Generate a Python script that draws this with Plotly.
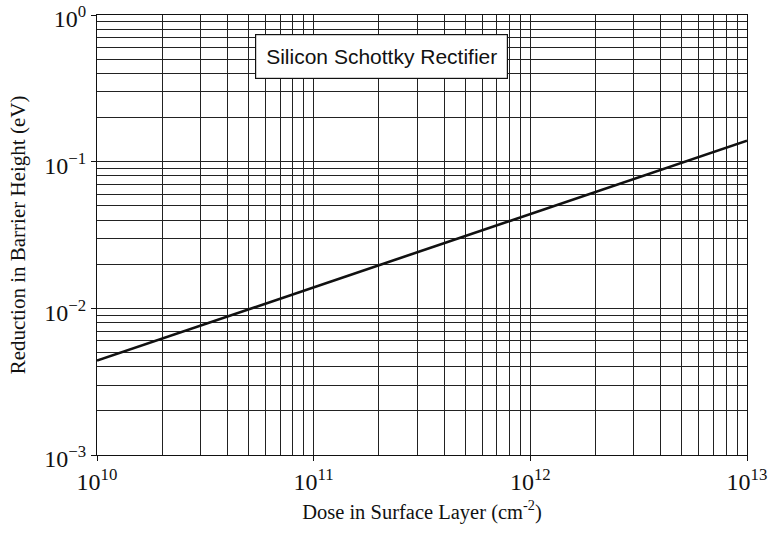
import plotly.graph_objects as go

# Data (log-log straight line)
dose = [1e10, 1e11, 1e12, 1e13]
barrier_reduction = [0.0044, 0.0139, 0.044, 0.139]

x_major = [1e10, 1e11, 1e12, 1e13]
x_major_labels = ["10<sup>10</sup>", "10<sup>11</sup>", "10<sup>12</sup>", "10<sup>13</sup>"]
y_major = [1e-3, 1e-2, 1e-1, 1e0]
y_major_labels = ["10<sup>−3</sup>", "10<sup>−2</sup>", "10<sup>−1</sup>", "10<sup>0</sup>"]
x_minor = [m * 10**e for e in (10, 11, 12) for m in range(2, 10)]
y_minor = [m * 10**e for e in (-3, -2, -1) for m in range(2, 10)]

serif = "Liberation Serif, Times New Roman, serif"
grid_col = "#222222"

fig = go.Figure()
fig.add_trace(go.Scatter(x=dose, y=barrier_reduction, mode="lines",
                         line=dict(color="#111111", width=2.6), showlegend=False))

axis_common = dict(
    type="log", showline=True, linecolor="#111111", linewidth=1.3, mirror=True,
    showgrid=True, gridcolor=grid_col, gridwidth=1.2,
    ticks="outside", ticklen=5, tickcolor="#111111", tickwidth=1.3,
    zeroline=False, automargin=False, ticklabeloverflow="allow",
    tickfont=dict(family=serif, size=24, color="#111111"),
)

fig.update_xaxes(**axis_common, range=[10, 13], tickmode="array",
                 tickvals=x_major, ticktext=x_major_labels,
                 minor=dict(tickmode="array", tickvals=x_minor, showgrid=True,
                            gridcolor=grid_col, gridwidth=1.2, ticks=""),
                 title=dict(text="Dose in Surface Layer (cm<sup>-2</sup>)",
                            font=dict(family=serif, size=20.5, color="#111111"), standoff=10))
fig.update_yaxes(**axis_common, range=[-3, 0], tickmode="array",
                 tickvals=y_major, ticktext=y_major_labels, ticklabelshift=4,
                 minor=dict(tickmode="array", tickvals=y_minor, showgrid=True,
                            gridcolor=grid_col, gridwidth=1.2, ticks=""),
                 title=dict(text="Reduction in Barrier Height (eV)",
                            font=dict(family=serif, size=21, color="#111111"), standoff=12))

fig.add_annotation(xref="paper", yref="paper", x=0.438, y=0.906,
                   text="Silicon Schottky Rectifier", showarrow=False,
                   font=dict(family="Liberation Sans, Arial, sans-serif", size=21, color="#111111"),
                   bgcolor="white", bordercolor="#111111", borderwidth=1.2, borderpad=10,
                   xanchor="center", yanchor="middle")

fig.update_layout(width=769, height=534, margin=dict(l=97, r=22, t=15, b=79),
                  paper_bgcolor="white", plot_bgcolor="white")

fig.write_html("out.html", config={"displayModeBar": False},
               post_script="document.body.style.margin='0';document.body.style.overflow='hidden';")
